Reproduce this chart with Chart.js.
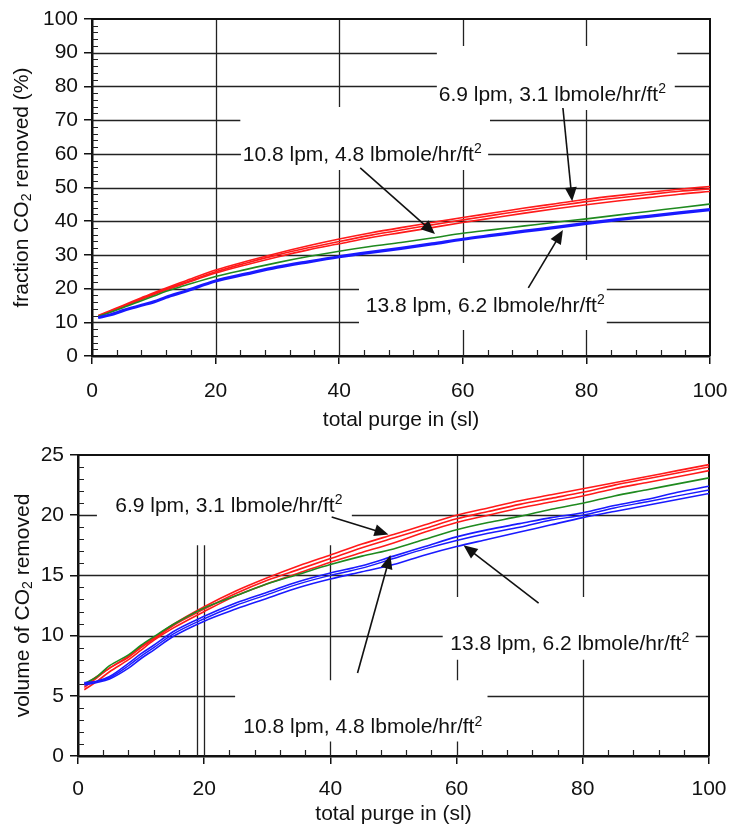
<!DOCTYPE html>
<html>
<head>
<meta charset="utf-8">
<script src="https://cdn.jsdelivr.net/npm/chart.js@4.4.1/dist/chart.umd.min.js"></script>
<style>
  html, body { margin: 0; padding: 0; background: #fff; }
  canvas { display: block; }
</style>
</head>
<body>
<canvas id="topChart" width="730" height="430"></canvas>
<canvas id="bottomChart" width="730" height="394"></canvas>
<script>
// total purge in (sl), shared by all runs
const xPurge = [1, 3, 5, 8, 10, 12, 15, 20, 25, 30, 35, 40, 45, 50, 55, 60, 65, 70, 75, 80, 85, 90, 95, 100];

// fraction CO2 removed (%)
const fracRedA = [12.0, 13.5, 15.0, 17.3, 18.8, 20.2, 22.2, 25.5, 28.1, 30.5, 32.7, 34.7, 36.5, 38.1, 39.6, 41.1, 42.5, 43.9, 45.2, 46.5, 47.6, 48.6, 49.5, 50.3];
const fracRedB = [11.8, 13.3, 14.8, 17.0, 18.5, 19.9, 21.8, 25.0, 27.6, 30.0, 32.1, 34.0, 35.8, 37.4, 38.9, 40.4, 41.8, 43.2, 44.5, 45.8, 46.9, 47.9, 48.9, 49.6];
const fracRedC = [11.6, 13.1, 14.6, 16.8, 18.2, 19.6, 21.5, 24.6, 27.1, 29.4, 31.5, 33.3, 35.1, 36.6, 38.1, 39.6, 41.0, 42.4, 43.7, 44.9, 46.0, 47.0, 48.0, 48.8];
const fracGreen = [11.8, 13.0, 14.3, 16.4, 17.8, 19.2, 20.9, 23.6, 25.7, 27.7, 29.5, 31.1, 32.5, 33.7, 35.0, 36.4, 37.5, 38.6, 39.7, 40.7, 41.8, 42.9, 44.0, 45.1];
const fracBlueA = [11.5, 12.4, 13.6, 15.2, 16.2, 17.6, 19.3, 22.4, 24.5, 26.5, 28.1, 29.6, 30.9, 32.1, 33.4, 34.8, 36.0, 37.2, 38.3, 39.5, 40.6, 41.6, 42.6, 43.6];
const fracBlueB = [11.3, 12.1, 13.3, 14.9, 15.9, 17.3, 19.0, 22.1, 24.2, 26.2, 27.8, 29.3, 30.6, 31.8, 33.1, 34.5, 35.7, 36.9, 38.0, 39.2, 40.3, 41.3, 42.3, 43.3];

// volume of CO2 removed
const volRedA = [5.7, 6.5, 7.3, 8.3, 9.1, 9.8, 10.9, 12.4, 13.7, 14.8, 15.8, 16.7, 17.6, 18.4, 19.2, 20.0, 20.6, 21.2, 21.7, 22.2, 22.7, 23.2, 23.7, 24.2];
const volRedB = [5.9, 6.6, 7.3, 8.2, 9.0, 9.7, 10.8, 12.2, 13.5, 14.6, 15.5, 16.4, 17.3, 18.1, 18.9, 19.7, 20.3, 20.9, 21.4, 21.9, 22.5, 23.0, 23.5, 24.0];
const volRedC = [5.5, 6.2, 7.0, 8.0, 8.8, 9.6, 10.6, 12.0, 13.3, 14.3, 15.2, 16.1, 16.9, 17.7, 18.6, 19.4, 20.0, 20.6, 21.1, 21.6, 22.2, 22.7, 23.2, 23.7];
const volGreen = [6.0, 6.6, 7.5, 8.4, 9.2, 9.9, 10.9, 12.3, 13.3, 14.3, 15.1, 15.9, 16.6, 17.2, 18.0, 18.8, 19.4, 19.9, 20.5, 21.0, 21.6, 22.1, 22.6, 23.1];
const volBlueA = [6.0, 6.2, 6.6, 7.7, 8.5, 9.2, 10.3, 11.6, 12.7, 13.6, 14.5, 15.2, 15.8, 16.6, 17.4, 18.2, 18.8, 19.3, 19.8, 20.2, 20.8, 21.3, 21.9, 22.4];
const volBlueB = [6.1, 6.2, 6.5, 7.5, 8.3, 9.0, 10.1, 11.4, 12.5, 13.4, 14.3, 15.0, 15.6, 16.4, 17.2, 17.9, 18.5, 19.0, 19.6, 20.0, 20.6, 21.1, 21.6, 22.1];
const volBlueC = [5.9, 6.1, 6.4, 7.3, 8.1, 8.8, 9.9, 11.2, 12.2, 13.1, 14.0, 14.7, 15.3, 15.9, 16.7, 17.4, 18.0, 18.6, 19.2, 19.8, 20.3, 20.8, 21.3, 21.8];

const labelLow = '6.9 lpm, 3.1 lbmole/hr/ft';
const labelMid = '10.8 lpm, 4.8 lbmole/hr/ft';
const labelHigh = '13.8 lpm, 6.2 lbmole/hr/ft';

const FONT = '"Liberation Sans", Arial, Helvetica, sans-serif';
const INK = '#111';
const RED = '#ff1a1a', GREEN = '#1f8a1f', BLUE = '#1a1aff';

// grid segments, in data units: rows = [y, xFrom, xTo], cols = [x, yFrom, yTo]
const topRows = [[90, 0, 55.8], [90, 94.7, 100], [80, 0, 55.8], [80, 94.3, 100], [70, 0, 24], [70, 64.4, 100],
  [60, 0, 24.1], [60, 64.1, 100], [50, 0, 100], [40, 0, 100], [30, 0, 100],
  [20, 0, 43.2], [20, 83.3, 100], [10, 0, 43.2], [10, 83.3, 100]];
const topCols = [[20, 0, 100], [40, 73.9, 100], [40, 0, 55.2], [60, 92, 100], [60, 27.6, 55.2], [60, 0, 7.7],
  [80, 92, 100], [80, 28.5, 73], [80, 0, 7.7]];
const bottomRows = [[20, 0, 3], [20, 43.4, 100], [15, 0, 100], [10, 0, 57.8], [10, 97.9, 100], [5, 0, 24.9], [5, 64.9, 100]];
const bottomCols = [[18.9, 0, 17.5], [20, 0, 17.5], [40, 6.3, 17.5], [40, 0, 1.2], [60, 13.2, 25], [60, 6.3, 8.0], [60, 0, 1.2],
  [80, 13.2, 25], [80, 0, 8.0]];

// annotations: text left/baseline and arrow from -> tip, in data units
const topNotes = [
  { text: labelLow, x: 56.1, y: 75.7, from: [76.2, 73.6], to: [77.7, 45.9] },
  { text: labelMid, x: 24.4, y: 57.9, from: [43.4, 55.8], to: [55.5, 36.2] },
  { text: labelHigh, x: 44.3, y: 13.1, from: [70.6, 20.2], to: [76.2, 37.4] }
];
const bottomNotes = [
  { text: labelLow, x: 5.9, y: 20.3, from: [40.2, 19.85], to: [49.2, 18.4] },
  { text: labelMid, x: 26.2, y: 1.9, from: [44.3, 6.9], to: [49.5, 16.7] },
  { text: labelHigh, x: 59.0, y: 8.8, from: [73.0, 12.7], to: [61.1, 17.5] }
];

function series(ys, color, width) {
  return {
    data: xPurge.map((x, i) => ({ x: x, y: ys[i] })),
    borderColor: color,
    borderWidth: width,
    pointRadius: 0,
    cubicInterpolationMode: 'monotone',
    fill: false
  };
}

// text with a raised or lowered "2"
function richWidth(ctx, parts, size) {
  let w = 0;
  parts.forEach(p => {
    ctx.font = (p[1] ? Math.round(size * 0.66) : size) + 'px ' + FONT;
    w += ctx.measureText(p[0]).width;
  });
  return w;
}
function drawRich(ctx, parts, x, y, size) {
  let cx = x;
  parts.forEach(p => {
    const fs = p[1] ? Math.round(size * 0.66) : size;
    ctx.font = fs + 'px ' + FONT;
    const dy = p[1] === 'sup' ? -size * 0.36 : p[1] === 'sub' ? size * 0.26 : 0;
    ctx.fillText(p[0], cx, y + dy);
    cx += ctx.measureText(p[0]).width;
  });
}

function arrow(ctx, x1, y1, x2, y2) {
  const a = Math.atan2(y2 - y1, x2 - x1);
  const len = 14, half = 6;
  ctx.beginPath();
  ctx.moveTo(x1, y1);
  ctx.lineTo(x2 - Math.cos(a) * len * 0.8, y2 - Math.sin(a) * len * 0.8);
  ctx.stroke();
  ctx.beginPath();
  ctx.moveTo(x2, y2);
  ctx.lineTo(x2 - Math.cos(a) * len - Math.sin(a) * half, y2 - Math.sin(a) * len + Math.cos(a) * half);
  ctx.lineTo(x2 - Math.cos(a) * len + Math.sin(a) * half, y2 - Math.sin(a) * len - Math.cos(a) * half);
  ctx.closePath();
  ctx.fill();
}

function framePlugin(cfg) {
  return {
    id: 'frame',
    beforeDatasetsDraw(chart) {
      const { ctx, chartArea: ca, scales: { x, y } } = chart;
      ctx.save();
      ctx.strokeStyle = '#222';
      ctx.lineWidth = 1.3;
      ctx.beginPath();
      cfg.rows.forEach(r => {
        const py = Math.round(y.getPixelForValue(r[0])) + 0.5;
        ctx.moveTo(x.getPixelForValue(r[1]), py);
        ctx.lineTo(x.getPixelForValue(r[2]), py);
      });
      cfg.cols.forEach(c => {
        const px = Math.round(x.getPixelForValue(c[0])) + 0.5;
        ctx.moveTo(px, y.getPixelForValue(c[1]));
        ctx.lineTo(px, y.getPixelForValue(c[2]));
      });
      ctx.stroke();
      // minor ticks, pointing inward
      ctx.lineWidth = 1.2;
      ctx.beginPath();
      for (let v = 0; v <= x.max; v += cfg.xMinor) {
        if (v % 20 === 0) continue;
        const px = Math.round(x.getPixelForValue(v)) + 0.5;
        ctx.moveTo(px, ca.bottom);
        ctx.lineTo(px, ca.bottom - 6);
      }
      for (let v = 0; v <= y.max; v += cfg.yMinor) {
        if (v % cfg.yMajor === 0) continue;
        const py = Math.round(y.getPixelForValue(v)) + 0.5;
        ctx.moveTo(ca.left, py);
        ctx.lineTo(ca.left + 6, py);
      }
      ctx.stroke();
      // top and right border
      ctx.lineWidth = 2;
      ctx.strokeStyle = INK;
      ctx.beginPath();
      ctx.moveTo(ca.left, ca.top);
      ctx.lineTo(ca.right, ca.top);
      ctx.lineTo(ca.right, ca.bottom);
      ctx.stroke();
      ctx.restore();
    },
    afterDatasetsDraw(chart) {
      const { ctx, chartArea: ca, scales: { x, y } } = chart;
      ctx.save();
      ctx.fillStyle = INK;
      ctx.strokeStyle = INK;
      ctx.lineWidth = 1.6;
      ctx.textBaseline = 'alphabetic';
      cfg.notes.forEach(n => {
        drawRich(ctx, [[n.text, ''], ['2', 'sup']], x.getPixelForValue(n.x), y.getPixelForValue(n.y), 21);
        arrow(ctx, x.getPixelForValue(n.from[0]), y.getPixelForValue(n.from[1]),
          x.getPixelForValue(n.to[0]), y.getPixelForValue(n.to[1]));
      });
      // y axis title with subscript
      const w = richWidth(ctx, cfg.yTitle, 21);
      ctx.translate(cfg.yTitleX, (ca.top + ca.bottom) / 2);
      ctx.rotate(-Math.PI / 2);
      ctx.textBaseline = 'middle';
      drawRich(ctx, cfg.yTitle, -w / 2, 0, 21);
      ctx.restore();
    }
  };
}

function makeChart(id, datasets, yMax, yStep, cfg) {
  return new Chart(document.getElementById(id), {
    type: 'line',
    data: { datasets: datasets },
    options: {
      responsive: false,
      animation: false,
      events: [],
      layout: { padding: { top: cfg.top, right: cfg.right, left: 0, bottom: 0 } },
      plugins: { legend: { display: false }, tooltip: { enabled: false } },
      scales: {
        x: {
          type: 'linear', min: 0, max: 100,
          ticks: { stepSize: 20, color: INK, font: { family: FONT, size: 21 }, padding: cfg.xPad, maxRotation: 0 },
          grid: { drawOnChartArea: false, tickLength: 8, color: INK, lineWidth: 1.5 },
          border: { color: INK, width: 2.5 },
          title: { display: true, text: 'total purge in (sl)', color: INK, font: { family: FONT, size: 21 }, padding: { top: 0, bottom: cfg.titlePad } },
          afterFit: s => { s.height = cfg.xHeight; s.paddingLeft = 0; s.paddingRight = 0; }
        },
        y: {
          min: 0, max: yMax,
          ticks: { stepSize: yStep, color: INK, font: { family: FONT, size: 21 }, padding: 6 },
          grid: { drawOnChartArea: false, tickLength: 8, color: INK, lineWidth: 1.5 },
          border: { color: INK, width: 2.5 },
          afterFit: s => { s.width = cfg.yWidth; }
        }
      }
    },
    plugins: [framePlugin(cfg)]
  });
}

makeChart('topChart', [
  series(fracBlueA, BLUE, 2.2), series(fracBlueB, BLUE, 2.2),
  series(fracGreen, GREEN, 1.6),
  series(fracRedA, RED, 1.6), series(fracRedB, RED, 1.6), series(fracRedC, RED, 1.6)
], 100, 10, {
  rows: topRows, cols: topCols, notes: topNotes, xMinor: 4, yMinor: 2, yMajor: 10,
  top: 19, right: 20, yWidth: 92, xHeight: 74, xPad: 15, titlePad: -3,
  yTitleX: 22, yTitle: [['fraction CO', ''], ['2', 'sub'], [' removed (%)', '']]
});

makeChart('bottomChart', [
  series(volBlueA, BLUE, 1.6), series(volBlueB, BLUE, 1.4), series(volBlueC, BLUE, 1.6),
  series(volGreen, GREEN, 1.6),
  series(volRedA, RED, 1.6), series(volRedB, RED, 1.6), series(volRedC, RED, 1.6)
], 25, 5, {
  rows: bottomRows, cols: bottomCols, notes: bottomNotes, xMinor: 4, yMinor: 1, yMajor: 5,
  top: 25, right: 21, yWidth: 78, xHeight: 68, xPad: 13, titlePad: -3,
  yTitleX: 23, yTitle: [['volume of CO', ''], ['2', 'sub'], [' removed', '']]
});
</script>
</body>
</html>
